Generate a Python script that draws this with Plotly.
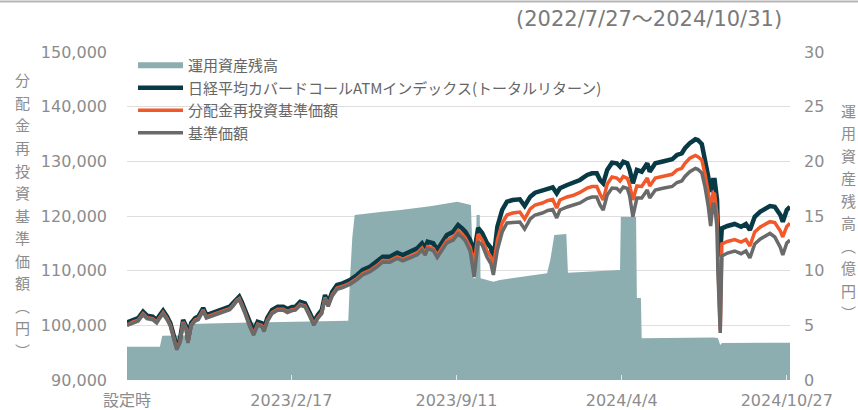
import plotly.graph_objects as go

dates = [
    "2022-07-27", "2022-08-03", "2022-08-10", "2022-08-16", "2022-08-21", "2022-08-28",
    "2022-09-02", "2022-09-06", "2022-09-10", "2022-09-15", "2022-09-19", "2022-09-22",
    "2022-09-27", "2022-10-01", "2022-10-05", "2022-10-09", "2022-10-11", "2022-10-15",
    "2022-10-20", "2022-10-24", "2022-10-30", "2022-11-03", "2022-11-10", "2022-11-18",
    "2022-11-26", "2022-12-02", "2022-12-06", "2022-12-11", "2022-12-14", "2022-12-17",
    "2022-12-21", "2022-12-27", "2023-01-01", "2023-01-06", "2023-01-11", "2023-01-14",
    "2023-01-18", "2023-01-24", "2023-01-31", "2023-02-07", "2023-02-12", "2023-02-18",
    "2023-02-22", "2023-02-28", "2023-03-06", "2023-03-12", "2023-03-17", "2023-03-22",
    "2023-03-27", "2023-03-31", "2023-04-04", "2023-04-09", "2023-04-15", "2023-04-22",
    "2023-05-01", "2023-05-10", "2023-05-17", "2023-05-26", "2023-06-04", "2023-06-11",
    "2023-06-20", "2023-06-29", "2023-07-06", "2023-07-15", "2023-07-24", "2023-07-30",
    "2023-08-03", "2023-08-06", "2023-08-13", "2023-08-18", "2023-08-24", "2023-08-30",
    "2023-09-07", "2023-09-13", "2023-09-18", "2023-09-22", "2023-09-28", "2023-10-03",
    "2023-10-08", "2023-10-13", "2023-10-19", "2023-10-24", "2023-10-27", "2023-11-01",
    "2023-11-07", "2023-11-13", "2023-11-20", "2023-11-29", "2023-12-05", "2023-12-12",
    "2023-12-18", "2023-12-27", "2024-01-03", "2024-01-09", "2024-01-14", "2024-01-18",
    "2024-01-27", "2024-02-03", "2024-02-12", "2024-02-21", "2024-02-27", "2024-03-04",
    "2024-03-08", "2024-03-12", "2024-03-17", "2024-03-23", "2024-03-29", "2024-04-02",
    "2024-04-06", "2024-04-11", "2024-04-14", "2024-04-18", "2024-04-23", "2024-04-29",
    "2024-05-06", "2024-05-09", "2024-05-16", "2024-05-24", "2024-05-31", "2024-06-06",
    "2024-06-12", "2024-06-18", "2024-06-22", "2024-06-28", "2024-07-05", "2024-07-08",
    "2024-07-13", "2024-07-17", "2024-07-21", "2024-07-24", "2024-07-27", "2024-07-29",
    "2024-08-01", "2024-08-02", "2024-08-05", "2024-08-06", "2024-08-07", "2024-08-14",
    "2024-08-23", "2024-08-31", "2024-09-06", "2024-09-11", "2024-09-17", "2024-09-24",
    "2024-09-30", "2024-10-06", "2024-10-12", "2024-10-19", "2024-10-22", "2024-10-27",
    "2024-10-31",
]

index_tr = [
    100550, 100980, 101340, 102490, 101760, 101580,
    100980, 101890, 102680, 101580, 100430, 98840,
    96090, 97320, 100980, 99750, 97320, 100430,
    101340, 101580, 103170, 101890, 102260, 102620,
    103170, 103410, 104030, 104950, 105240, 104320,
    102810, 100430, 98840, 100670, 100430, 99510,
    101340, 102810, 103410, 103410, 102990, 103350,
    103410, 104320, 104030, 102260, 100670, 101890,
    102810, 105550, 104090, 106150, 107380, 107690,
    108290, 109210, 110120, 110730, 111640, 112560,
    112560, 113290, 112870, 113470, 114090, 115010,
    114090, 115300, 115010, 113780, 115300, 116530,
    117130, 118350, 117750, 117130, 115610, 113230,
    117810, 116890, 115060, 114150, 111950, 118040,
    121100, 122620, 122930, 123060, 121830, 123530,
    124260, 124630, 125070, 125250, 124150, 125070,
    125670, 125980, 126590, 127500, 127810, 127810,
    126590, 125980, 128420, 129750, 129640, 129020,
    129930, 129640, 128420, 125980, 128420, 128100,
    129640, 128100, 129640, 129930, 130250, 130370,
    131160, 131470, 132390, 133300, 134030, 133900,
    133170, 130560, 127190, 124390, 126590, 126590,
    122930, 117440, 112560, 115610, 117750, 118170,
    118540, 118040, 118540, 117440, 119870, 120790,
    121410, 121830, 121700, 120180, 118960, 121100,
    121700,
]

nav_reinvest = [
    100000, 100610, 100970, 102120, 101390, 101210,
    100610, 101520, 102310, 101210, 100060, 98470,
    95720, 96950, 100610, 99380, 96950, 100060,
    100970, 101210, 102800, 101520, 101890, 102250,
    102800, 103040, 103660, 104580, 104870, 103950,
    102440, 99970, 98380, 100210, 99970, 99050,
    100880, 102350, 102950, 102950, 102530, 102890,
    102950, 103860, 103570, 101800, 100210, 101430,
    102350, 105090, 103630, 105600, 106830, 107140,
    107690, 108590, 109480, 110060, 110950, 111850,
    111830, 112520, 112050, 112630, 113220, 114120,
    113190, 114380, 114070, 112830, 114320, 115540,
    116100, 117290, 116650, 116000, 114330, 111220,
    116710, 115610, 113600, 112500, 110670, 115610,
    118720, 120180, 120550, 120730, 119450, 121280,
    122010, 122380, 122840, 123020, 121460, 122930,
    123480, 123750, 124300, 125120, 125400, 125400,
    124030, 122930, 125850, 127130, 126950, 126400,
    127230, 126900, 125670, 122930, 125490, 125400,
    126950, 125490, 126950, 127230, 127500, 127630,
    128420, 128730, 129640, 130560, 131070, 130850,
    130250, 127680, 124390, 121100, 124210, 124030,
    120180, 111950, 99150, 112320, 114880, 115340,
    115700, 115240, 115700, 114510, 117070, 117990,
    118540, 118960, 118810, 117260, 116160, 118080,
    118670,
]

nav = [
    100000, 100430, 100790, 101940, 101210, 101030,
    100430, 101340, 102130, 101030, 99880, 98290,
    95540, 96770, 100430, 99200, 96770, 99880,
    100790, 101030, 102620, 101340, 101710, 102070,
    102620, 102860, 103480, 104400, 104690, 103770,
    102260, 99790, 98200, 100030, 99790, 98870,
    100700, 102170, 102770, 102770, 102350, 102710,
    102770, 103680, 103390, 101620, 100030, 101250,
    102170, 104910, 103450, 105380, 106610, 106920,
    107460, 108350, 109230, 109800, 110680, 111580,
    111560, 112250, 111780, 112320, 112890, 113770,
    112840, 114020, 113690, 112440, 113900, 115100,
    115600, 116750, 116100, 115450, 113600, 108840,
    115300, 114700, 112500, 111220, 109210, 113780,
    117070, 118720, 118810, 118900, 117620, 119450,
    120180, 120550, 121010, 121190, 119640, 121100,
    121650, 121920, 122380, 123200, 123480, 123480,
    122010, 121100, 123840, 125120, 125030, 124480,
    125310, 125070, 123660, 119870, 123290, 123290,
    124760, 123290, 124760, 125030, 125310, 125400,
    126130, 126400, 127230, 128100, 128690, 128540,
    127870, 125310, 121830, 118170, 122380, 122010,
    117810, 110120, 98600, 110120, 112680, 113230,
    113600, 113100, 113600, 112320, 114880, 115790,
    116400, 116820, 116160, 114240, 112870, 115060,
    115610,
]

aum_dates = [
    "2022-07-27", "2022-09-06", "2022-09-09", "2022-10-10", "2022-10-12", "2022-12-27",
    "2023-04-29", "2023-05-01", "2023-05-04", "2023-05-07", "2023-06-08", "2023-07-03",
    "2023-08-09", "2023-09-12", "2023-09-29", "2023-10-02", "2023-10-05", "2023-10-06",
    "2023-10-10", "2023-10-11", "2023-10-27", "2023-11-04", "2024-01-02", "2024-01-06",
    "2024-01-11", "2024-01-26", "2024-01-28", "2024-04-02", "2024-04-03", "2024-04-22",
    "2024-04-23", "2024-04-28", "2024-04-29", "2024-07-27", "2024-08-02", "2024-08-05",
    "2024-08-07", "2024-10-31",
]
aum = [
    3.05, 3.05, 4.05, 4.10, 5.12, 5.26,
    5.42, 9.0, 13.0, 15.1, 15.37, 15.55,
    15.9, 16.3, 16.0, 9.3, 9.3, 15.1,
    15.1, 9.3, 8.99, 9.15, 9.76, 10.97,
    13.26, 13.35, 9.8, 10.06, 14.94, 14.9,
    7.5, 7.5, 3.81, 3.89, 3.85, 3.20,
    3.38, 3.41,
]

tick_vals = ["2022-07-27", "2023-02-17", "2023-09-11", "2024-04-04", "2024-10-27"]
tick_text = ["設定時", "2023/2/17", "2023/9/11", "2024/4/4", "2024/10/27"]

left_title = ["分", "配", "金", "再", "投", "資", "基", "準", "価", "額", "︵", "円", "︶"]
right_title = ["運", "用", "資", "産", "残", "高", "︵", "億", "円", "︶"]

NUMFONT = "DejaVu Sans, Noto Sans CJK JP, sans-serif"
JPFONT = "Noto Sans CJK JP, sans-serif"
GRAY = "#8c8c8c"

fig = go.Figure()
fig.add_trace(go.Scatter(
    x=aum_dates, y=aum, name="運用資産残高", mode="none",
    fill="tozeroy", fillcolor="#8daeb0", yaxis="y",
))
fig.add_trace(go.Scatter(
    x=dates, y=index_tr, name="日経平均カバードコールATMインデックス(トータルリターン)",
    mode="lines", line=dict(color="#083a45", width=4.5), yaxis="y2",
))
fig.add_trace(go.Scatter(
    x=dates, y=nav_reinvest, name="分配金再投資基準価額",
    mode="lines", line=dict(color="#f2592a", width=3.5), yaxis="y2",
))
fig.add_trace(go.Scatter(
    x=dates, y=nav, name="基準価額",
    mode="lines", line=dict(color="#6a6a6a", width=3.5), yaxis="y2",
))

W, H = 858, 410
L, R, T, B = 127, 68, 52, 30
pw, ph = W - L - R, H - T - B


def px_x(x):
    return (x - L) / pw


def px_y(y):
    return (H - B - y) / ph


annotations = [dict(
    text="(2022/7/27～2024/10/31)", xref="paper", yref="paper",
    x=px_x(784), y=px_y(19), xanchor="right", yanchor="middle",
    showarrow=False, font=dict(family=NUMFONT, size=21, color="#7a7a7a"),
)]
for i, ch in enumerate(left_title):
    annotations.append(dict(
        text=ch, xref="paper", yref="paper", x=px_x(22), y=px_y(80 + 22.5 * i),
        xanchor="center", yanchor="middle", showarrow=False,
        font=dict(family=JPFONT, size=15, color=GRAY),
    ))
for i, ch in enumerate(right_title):
    annotations.append(dict(
        text=ch, xref="paper", yref="paper", x=px_x(849), y=px_y(110 + 22.5 * i),
        xanchor="center", yanchor="middle", showarrow=False,
        font=dict(family=JPFONT, size=15, color=GRAY),
    ))

fig.update_layout(
    width=W, height=H,
    margin=dict(l=L, r=R, t=T, b=B, pad=0),
    paper_bgcolor="white", plot_bgcolor="white",
    showlegend=True,
    legend=dict(
        x=px_x(133), y=px_y(49), xanchor="left", yanchor="top",
        bgcolor="rgba(255,255,255,0)", font=dict(family=JPFONT, size=15, color="#666666"),
        tracegroupgap=0, itemwidth=45,
    ),
    xaxis=dict(
        type="date", range=["2022-07-27", "2024-10-31"],
        tickmode="array", tickvals=tick_vals, ticktext=tick_text,
        ticks="inside", ticklen=5, tickcolor="#e8e8e8", tickwidth=1,
        showgrid=False, showline=False, zeroline=False,
        tickfont=dict(family=NUMFONT, size=16, color=GRAY),
        ticklabelstandoff=9, automargin=False,
    ),
    yaxis=dict(
        side="right", range=[0, 30], dtick=5, tick0=0,
        showgrid=True, gridcolor="#dedede", gridwidth=1,
        zeroline=False, showline=False,
        tickfont=dict(family=NUMFONT, size=16, color=GRAY),
        ticklabelstandoff=13, automargin=False,
    ),
    yaxis2=dict(
        overlaying="y", side="left", range=[90000, 150000], dtick=10000, tick0=90000,
        tickformat=",", showgrid=False, zeroline=False, showline=False,
        tickfont=dict(family=NUMFONT, size=16, color=GRAY),
        ticklabelstandoff=19, automargin=False,
    ),
    annotations=annotations,
    shapes=[dict(
        type="line", xref="paper", yref="paper",
        x0=px_x(0), x1=px_x(W), y0=px_y(1.5), y1=px_y(1.5),
        line=dict(color="#b5b5b5", width=2),
    )],
)

fig.write_html(
    "out.html",
    config={"displayModeBar": False},
    post_script="document.body.style.margin='0';document.body.style.padding='0';document.body.style.overflow='hidden';",
)
